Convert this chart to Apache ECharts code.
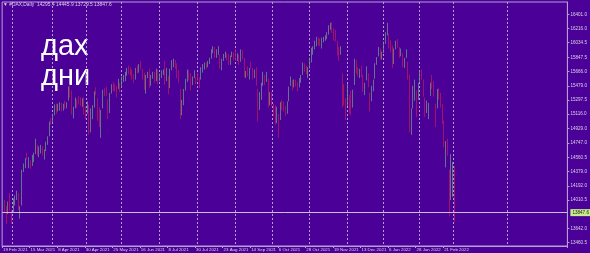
<!DOCTYPE html>
<html><head><meta charset="utf-8">
<script src="https://cdn.jsdelivr.net/npm/echarts@6/dist/echarts.min.js"></script>
<style>html,body{margin:0;padding:0;background:#4b0098;} #c{width:590px;height:253px;}</style>
</head><body><div id="c"></div>
<script>
// ---- data ----
const startDate = '2021-02-19';
const holidays = ['2021-04-02','2021-04-05','2021-05-24','2021-12-24','2021-12-31'];
const opens = [
13930,13990,13900,13890,14010,13800,13860,14030,14060,14050,
13900,13960,14420,14450,14590,14500,14490,14490,14560,14640,
14690,14620,14660,14630,14600,14660,14750,14840,15030,15030,
15140,15230,15200,15210,15230,15200,15250,15230,15300,15450,
15380,15100,15230,15300,15300,15300,15260,15300,15170,15160,
15220,14900,15180,15220,15410,15300,15130,14930,15200,15410,
15410,15300,15150,15400,15480,15460,15460,15450,15490,15460,
15540,15620,15630,15700,15680,15650,15590,15580,15700,15680,
15720,15640,15620,15400,15610,15650,15500,15600,15620,15560,
15660,15570,15610,15640,15680,15560,15600,15460,15700,15770,
15800,15740,15640,15420,15170,15260,15460,15550,15660,15610,
15540,15620,15570,15600,15580,15590,15700,15740,15770,15760,
15780,15850,15950,15960,15900,15930,15850,15770,15830,15870,
15880,15860,15800,15860,15890,15870,15810,15860,15800,15920,
15820,15590,15650,15620,15740,15690,15630,15690,15420,15180,
15380,15520,15600,15560,15560,15280,15360,15200,15180,15080,
15110,15060,15270,15230,15180,15160,15290,15490,15530,15500,
15530,15490,15510,15560,15630,15740,15700,15660,15720,15830,
15930,15990,16040,16070,16060,16020,16060,16080,16120,16170,
16240,16240,16200,16180,16040,15940,15880,15600,15400,15180,
15250,15320,15330,15240,15500,15790,15660,15600,15660,15570,
15440,15580,15600,15350,15300,15450,15580,15790,15870,15930,
15870,15910,16060,16160,16100,16040,15960,15800,15980,16030,
15950,15900,15880,15790,15870,15760,15600,14980,15210,15330,
15380,15400,15550,15640,15500,15310,15160,15170,15370,15520,
15460,15200,15200,15390,15360,15150,15000,14560,14720,14380,
14150,14150,14295.4];
const highs = [
14010,14010,13930,13990,14100,13880,14030,14070,14130,14100,
13930,14400,14480,14550,14620,14560,14520,14590,14620,14800,
14720,14700,14720,14700,14660,14760,14830,15020,15060,15120,
15240,15250,15250,15270,15260,15250,15290,15270,15470,15500,
15420,15210,15330,15310,15350,15330,15320,15330,15220,15280,
15240,15190,15230,15410,15460,15320,15200,15170,15430,15450,
15470,15310,15390,15500,15530,15500,15480,15570,15520,15600,
15620,15660,15710,15740,15720,15690,15630,15710,15740,15760,
15800,15700,15650,15620,15660,15700,15620,15660,15660,15700,
15690,15640,15680,15690,15800,15710,15610,15700,15810,15830,
15810,15770,15680,15440,15300,15440,15570,15690,15680,15640,
15600,15680,15590,15650,15590,15720,15760,15780,15780,15800,
15840,15950,15990,15980,15950,15990,15880,15830,15890,15920,
15900,15890,15870,15920,15910,15950,15900,15880,15950,15940,
15840,15670,15730,15710,15790,15710,15690,15720,15440,15400,
15520,15660,15620,15660,15570,15400,15400,15250,15230,15210,
15120,15270,15300,15280,15220,15280,15470,15600,15560,15560,
15560,15530,15580,15620,15780,15770,15740,15720,15840,15970,
15990,16060,16110,16100,16090,16100,16110,16130,16170,16260,
16290,16300,16220,16200,16060,15980,15990,15640,15500,15320,
15510,15360,15420,15430,15830,15810,15720,15700,15740,15620,
15520,15730,15640,15390,15480,15560,15770,15850,15980,15960,
15920,16050,16170,16290,16150,16070,16000,15960,16060,16080,
15980,15960,15900,15840,15950,15790,15620,15190,15480,15560,
15420,15520,15680,15690,15560,15330,15290,15260,15520,15620,
15540,15250,15440,15450,15390,15250,15030,14770,14800,14400,
14600,14500,14445.9];
const lows = [
13900,13860,13700,13830,13870,13700,13850,13940,14010,13880,
13770,13940,14370,14420,14530,14420,14410,14450,14500,14600,
14580,14560,14610,14580,14530,14640,14720,14830,14980,15010,
15100,15120,15150,15160,15150,15160,15180,15190,15290,15330,
15110,15060,15190,15200,15240,15220,15210,15110,15050,15120,
14850,14880,15050,15200,15360,15030,14950,14810,15190,15350,
15350,15050,15130,15380,15410,15410,15330,15440,15400,15450,
15530,15540,15610,15630,15610,15560,15520,15560,15640,15650,
15690,15560,15430,15380,15580,15450,15480,15570,15520,15540,
15500,15540,15580,15620,15490,15540,15370,15450,15680,15720,
15700,15580,15520,15050,15100,15230,15420,15530,15550,15420,
15490,15580,15500,15540,15450,15560,15650,15690,15700,15720,
15760,15830,15900,15840,15840,15880,15700,15680,15800,15840,
15810,15750,15750,15850,15810,15800,15800,15750,15790,15820,
15590,15580,15600,15560,15700,15560,15580,15480,15020,15170,
15300,15480,15490,15530,15200,15230,15220,15090,14980,15000,
14810,15040,15170,15150,15090,15120,15280,15480,15420,15460,
15470,15410,15460,15520,15620,15660,15630,15580,15700,15780,
15880,15950,15990,16000,15990,15960,16040,16060,16080,16140,
16200,16160,16060,16050,15870,15800,15880,15200,15230,15040,
15220,15120,15100,15200,15490,15640,15600,15580,15590,15400,
15360,15550,15460,15150,15280,15410,15570,15750,15860,15820,
15820,15900,16020,16130,15960,15910,15710,15760,15950,15970,
15840,15860,15720,15710,15840,15560,14880,14850,15190,15290,
15080,15300,15520,15560,15340,15080,15130,15050,15350,15440,
15340,14950,15190,15300,15200,14990,14690,14430,14580,13800,
14010,14050,13729.5];
const closes = [
13993,13950,13865,13976,13879,13786,14012,14039,14080,13920,
13920,14380,14437,14540,14569,14502,14461,14557,14596,14775,
14621,14657,14662,14610,14621,14748,14818,15008,15008,15107,
15212,15176,15202,15234,15215,15234,15209,15255,15459,15368,
15129,15195,15320,15280,15296,15249,15292,15154,15136,15236,
14856,15170,15197,15400,15400,15120,14977,15150,15417,15397,
15386,15113,15370,15438,15465,15450,15406,15520,15421,15567,
15602,15633,15693,15677,15641,15581,15571,15693,15674,15729,
15710,15636,15448,15604,15636,15456,15589,15607,15554,15691,
15531,15603,15650,15661,15511,15693,15421,15688,15790,15790,
15788,15629,15540,15133,15216,15422,15514,15669,15618,15519,
15570,15640,15544,15568,15555,15692,15744,15761,15745,15770,
15826,15937,15977,15925,15921,15965,15765,15808,15852,15905,
15860,15793,15851,15888,15835,15824,15840,15781,15932,15843,
15610,15623,15609,15701,15722,15616,15651,15490,15132,15348,
15506,15643,15531,15573,15248,15365,15260,15156,15036,15195,
14973,15250,15206,15199,15146,15249,15462,15587,15474,15516,
15523,15472,15543,15599,15757,15705,15696,15689,15806,15954,
15959,16029,16054,16046,16040,16067,16083,16094,16148,16248,
16251,16221,16160,16115,15937,15878,15917,15257,15280,15100,
15472,15263,15169,15386,15813,15687,15639,15623,15621,15453,
15476,15636,15531,15239,15447,15525,15756,15838,15964,15852,
15885,16020,16152,16271,16052,15948,15768,15942,16011,16010,
15883,15933,15773,15810,15912,15603,15011,15123,15460,15524,
15318,15471,15619,15613,15368,15100,15207,15242,15482,15490,
15425,15113,15412,15370,15267,15042,14731,14693,14631,14052,
14567,14461,13847.6];
const yTickLabels = [16401.0,16216.0,16034.5,15847.5,15666.0,15479.0,15297.5,15116.0,14929.0,14747.0,14560.5,14379.0,14192.0,14010.5,13642.0,13460.5];
const xTickLabels = ['19 Feb 2021','15 Mar 2021','8 Apr 2021','30 Apr 2021','25 May 2021','16 Jun 2021','8 Jul 2021','30 Jul 2021','23 Aug 2021','14 Sep 2021','6 Oct 2021','28 Oct 2021','19 Nov 2021','13 Dec 2021','6 Jan 2022','28 Jan 2022','21 Feb 2022'];
const lastPrice = 13847.6;
const headerText = '\u25BC #DAX,Daily  14295.4 14445.9 13729.5 13847.6';
const overlayLines = ['дах', 'дни'];
const totalSlots = 328;        // bars + empty future slots (chart shift)
const futureSeparatorDays = 32; // period separators drawn this far into the future area

// ---- trading calendar (future area: calendar days, as the terminal extrapolates) ----
const MONTHS = ['Jan','Feb','Mar','Apr','May','Jun','Jul','Aug','Sep','Oct','Nov','Dec'];
const nData = closes.length;
const cats = [], monthOf = [];
{
  const d = new Date(startDate + 'T12:00:00Z');
  while (cats.length < totalSlots) {
    const wd = d.getUTCDay();
    const iso = d.toISOString().slice(0,10);
    const future = cats.length >= nData;
    if (future || (wd !== 0 && wd !== 6 && holidays.indexOf(iso) < 0)) {
      cats.push(d.getUTCDate() + ' ' + MONTHS[d.getUTCMonth()] + ' ' + d.getUTCFullYear());
      monthOf.push(d.getUTCMonth());
    }
    d.setUTCDate(d.getUTCDate() + 1);
  }
}
const candles = opens.map((o, i) => [o, closes[i], lows[i], highs[i]]);

const BULL = '#6a9088', BEAR = '#b8165f', FG = '#dcd2ea', AX = '#b4a0d4';
const FONT = 'Liberation Sans';
const chart = echarts.init(document.getElementById('c'), null, {renderer: 'canvas'});
chart.setOption({
  backgroundColor: '#4b0098',
  animation: false,
  grid: {left: 0, right: 18, top: 2, bottom: 7, show: true, borderColor: AX, borderWidth: 1},
  xAxis: {
    type: 'category', data: cats, boundaryGap: true,
    axisLine: {show: true, lineStyle: {color: AX, width: 1}},
    axisTick: {show: true, length: 2, lineStyle: {color: AX}, interval: (i, v) => xTickLabels.indexOf(v) >= 0},
    axisLabel: {show: true, color: FG, fontSize: 4.4, fontFamily: FONT, margin: 2, align: 'left',
      showMinLabel: true, hideOverlap: false,
      interval: (i, v) => xTickLabels.indexOf(v) >= 0},
    splitLine: {show: true, lineStyle: {color: AX, width: 1, type: [2, 2]},
      interval: (i) => i > 0 && i < nData + futureSeparatorDays && monthOf[i] !== monthOf[i - 1]}
  },
  yAxis: {
    type: 'value', position: 'right', min: 13418, max: 16559, scale: true,
    axisLine: {show: true, lineStyle: {color: AX, width: 1}},
    axisTick: {show: true, length: 2, lineStyle: {color: AX}, customValues: yTickLabels},
    axisLabel: {show: true, color: FG, fontSize: 4.6, fontFamily: FONT, margin: 3,
      customValues: yTickLabels, formatter: v => v.toFixed(1)},
    splitLine: {show: false}
  },
  series: [{
    type: 'candlestick', data: candles, barWidth: 1,
    itemStyle: {color: BULL, color0: BEAR, borderColor: BULL, borderColor0: BEAR, borderWidth: 0.8},
    markLine: {
      silent: true, symbol: 'none', animation: false,
      data: [{yAxis: lastPrice}],
      lineStyle: {color: '#c9bde0', width: 1, type: 'solid'},
      label: {show: true, position: 'end', distance: 3, formatter: () => lastPrice.toFixed(1),
        backgroundColor: '#c6ee8a', color: '#1a1a1a', fontSize: 4.6, fontFamily: FONT, padding: [1, 2]}
    }
  }],
  graphic: [
    {type: 'text', left: 3, top: 2, style: {text: headerText, fill: FG, fontSize: 4.9, fontFamily: FONT}},
    {type: 'text', left: 41, top: 32, style: {text: overlayLines[0], fill: '#ffffff', fontSize: 29, fontFamily: FONT}},
    {type: 'text', left: 41, top: 62, style: {text: overlayLines[1], fill: '#ffffff', fontSize: 29, fontFamily: FONT}}
  ]
});
</script>
</body></html>
